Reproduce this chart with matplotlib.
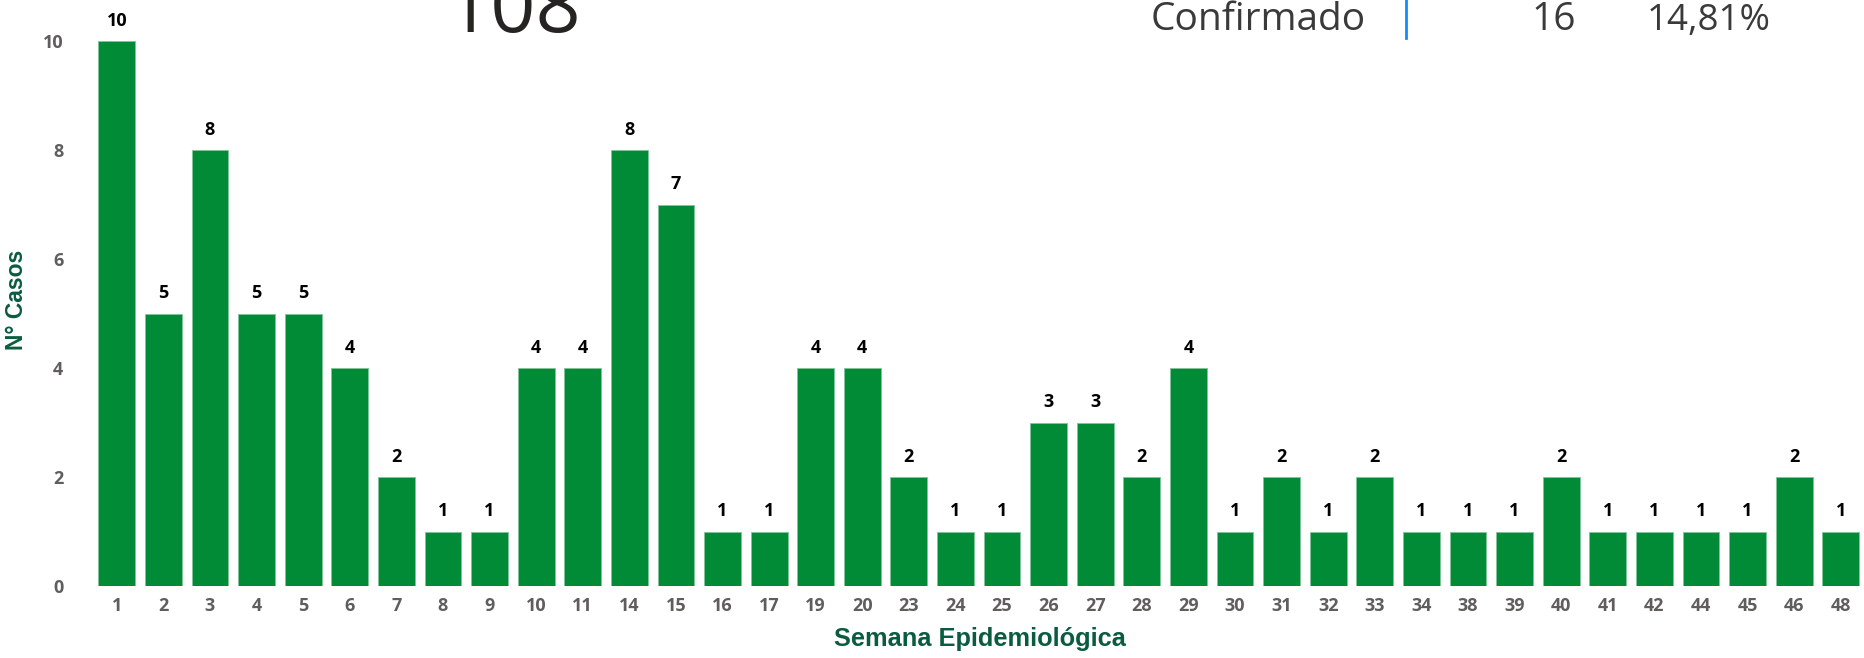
import matplotlib
matplotlib.use("Agg")
import matplotlib.pyplot as plt
from matplotlib.lines import Line2D

weeks = ["1", "2", "3", "4", "5", "6", "7", "8", "9", "10", "11", "14", "15", "16", "17",
         "19", "20", "23", "24", "25", "26", "27", "28", "29", "30", "31", "32", "33", "34",
         "38", "39", "40", "41", "42", "44", "45", "46", "48"]
cases = [10, 5, 8, 5, 5, 4, 2, 1, 1, 4, 4, 8, 7, 1, 1,
         4, 4, 2, 1, 1, 3, 3, 2, 4, 1, 2, 1, 2, 1,
         1, 1, 2, 1, 1, 1, 1, 2, 1]
yticks = [0, 2, 4, 6, 8, 10]
total_label = "108"
status_label = "Confirmado"
status_count = "16"
status_pct = "14,81%"

W, H = 1865, 658
fig = plt.figure(figsize=(W / 100, H / 100), dpi=100)
ax = fig.add_axes([80 / W, (H - 586) / H, 1 - 80 / W, 586 / H])

bar_color = "#018B36"
x = list(range(len(weeks)))
ax.bar(x, cases, width=0.79, color=bar_color, edgecolor="#7FC59A", linewidth=0.6)

for xi, v in zip(x, cases):
    ax.annotate(str(v), (xi, v), xytext=(0, 8), textcoords="offset points",
                ha="center", va="bottom", fontsize=13, fontweight="bold",
                color="black", family="Open Sans")

ax.set_xlim(-0.79, len(weeks) - 1 + 0.52)
ax.set_ylim(0, 586 / 54.5)
ax.set_xticks(x)
ax.set_xticklabels(weeks)
ax.set_yticks(yticks)
for s in ax.spines.values():
    s.set_visible(False)
ax.tick_params(axis="both", length=0, labelsize=13, labelcolor="#605E5C")
ax.tick_params(axis="x", pad=8)
ax.tick_params(axis="y", pad=12)
for lab in ax.get_xticklabels() + ax.get_yticklabels():
    lab.set_fontweight("bold")
    lab.set_family("Open Sans")

label_color = "#0B5C3E"
fig.text(980 / W, (H - 639) / H, "Semana Epidemiológica", ha="center", va="center",
         fontsize=18.3, fontweight="bold", color=label_color, family="Liberation Sans")
fig.text(17 / W, (H - 300) / H, "N° Casos", ha="center", va="center", rotation=90,
         fontsize=16.5, fontweight="bold", color=label_color, family="Liberation Sans")

# Clipped header elements from the dashboard above
fig.text(446 / W, (H - 32) / H, total_label, ha="left", va="baseline",
         fontsize=57, color="#252423", family="Open Sans")
fig.text(1151 / W, (H - 30) / H, status_label, ha="left", va="baseline",
         fontsize=28, color="#3A3A3A", family="Open Sans")
fig.text(1576 / W, (H - 30) / H, status_count, ha="right", va="baseline",
         fontsize=28, color="#3A3A3A", family="Open Sans")
fig.text(1647 / W, (H - 30) / H, status_pct, ha="left", va="baseline",
         fontsize=26.5, color="#3A3A3A", family="Open Sans")
fig.add_artist(Line2D([1406 / W, 1406 / W], [1, (H - 38) / H], transform=fig.transFigure,
                      color="#118DFF", linewidth=2))

fig.savefig("out.png", dpi=100)
